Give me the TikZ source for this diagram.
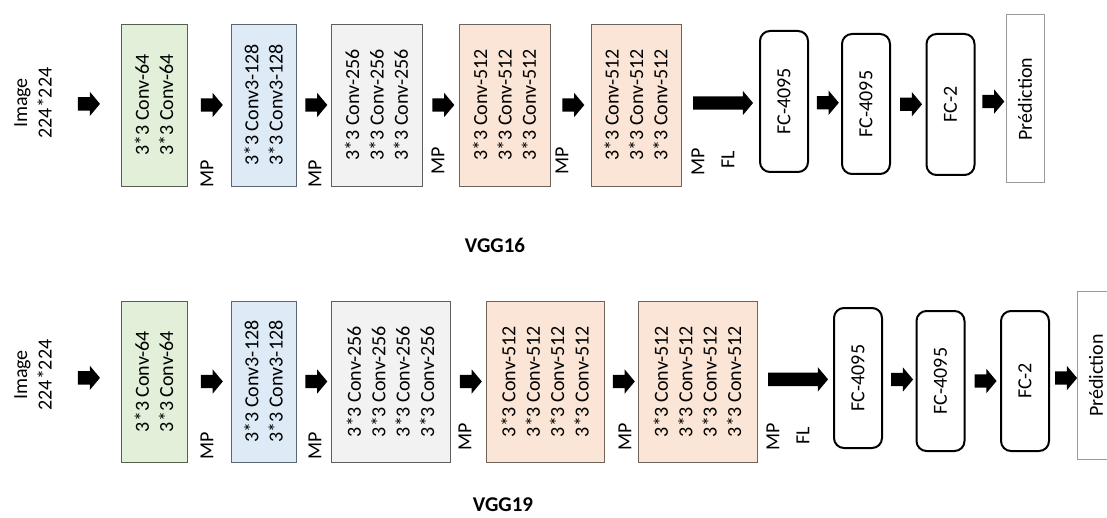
\documentclass[tikz,border=0pt]{standalone}
\usepackage{fontspec}
\setmainfont{Carlito}
\usetikzlibrary{shapes.arrows}

\definecolor{convgreen}{HTML}{E2F0D9}
\definecolor{convblue}{HTML}{DEEBF7}
\definecolor{convgray}{HTML}{F2F2F2}
\definecolor{convpeach}{HTML}{FBE5D6}
\definecolor{greenline}{HTML}{56604F}
\definecolor{blueline}{HTML}{5C6670}
\definecolor{grayline}{HTML}{5E5E5E}
\definecolor{peachline}{HTML}{6E625A}
\definecolor{predline}{HTML}{9A9A9A}

\tikzset{
  conv/.style={line width=0.9pt, rotate=90, align=center, inner sep=0pt},
  fc/.style={draw, line width=2pt, rounded corners=10pt, rotate=90, inner sep=0pt, minimum height=48pt},
  pred/.style={draw=predline, line width=1pt, rotate=90, inner sep=0pt, minimum height=38pt},
  fat/.style={single arrow, fill=black, inner xsep=0pt, inner ysep=6.5pt, minimum height=22pt,
    single arrow head extend=5.5pt, single arrow tip angle=100},
  lbl/.style={rotate=90, inner sep=0pt}
}

\begin{document}
\begin{tikzpicture}[x=1pt, y=-1pt, font=\fontsize{20}{24.4}\selectfont]
  \clip (0,0) rectangle (1107,518);
  \fill[white] (0,0) rectangle (1107,518);

  % VGG16
  \node[lbl, align=center] (Input 16) at (33,103) {Image\\224*224};
  \node[conv, draw=greenline, fill=convgreen, minimum width=162pt, minimum height=66pt] (Block1 16) at (154,105) {3*3 Conv-64\\3*3 Conv-64};
  \node[conv, draw=blueline, fill=convblue, minimum width=162pt, minimum height=65pt] (Block2 16) at (263.5,105) {3*3 Conv3-128\\3*3 Conv3-128};
  \node[conv, draw=grayline, fill=convgray, minimum width=162pt, minimum height=91pt] (Block3 16) at (376.5,105) {3*3 Conv-256\\3*3 Conv-256\\3*3 Conv-256};
  \node[conv, draw=peachline, fill=convpeach, minimum width=162pt, minimum height=91pt] (Block4 16) at (504.5,105) {3*3 Conv-512\\3*3 Conv-512\\3*3 Conv-512};
  \node[conv, draw=peachline, fill=convpeach, minimum width=162pt, minimum height=90pt] (Block5 16) at (636,105) {3*3 Conv-512\\3*3 Conv-512\\3*3 Conv-512};
  \node[fc, minimum width=141pt] (FC1 16) at (784,101.5) {FC-4095};
  \node[fc, minimum width=140pt] (FC2 16) at (866,104) {FC-4095};
  \node[fc, minimum width=141pt] (FC3 16) at (950.5,104.5) {FC-2};
  \node[pred, minimum width=168pt] (Prediction 16) at (1025,99) {Prédiction};

  \node[lbl] (MP1 16) at (207,173.5) {MP};
  \node[lbl] (MP2 16) at (315,173.5) {MP};
  \node[lbl] (MP3 16) at (438,160.5) {MP};
  \node[lbl] (MP4 16) at (562,160.5) {MP};
  \node[lbl] (MP5 16) at (698,161.5) {MP};
  \node[lbl] (FL 16) at (728,159.5) {FL};

  \path (Input 16) -- node[fat]{} (Block1 16);
  \path (Block1 16) -- node[fat]{} (Block2 16);
  \path (Block2 16) -- node[fat]{} (Block3 16);
  \path (Block3 16) -- node[fat]{} (Block4 16);
  \path (Block4 16) -- node[fat]{} (Block5 16);
  \path (Block5 16) -- node[fat, minimum height=60pt]{} (FC1 16);
  \path (FC1 16) -- node[fat]{} (FC2 16);
  \path (FC2 16) -- node[fat]{} (FC3 16);
  \path (FC3 16) -- node[fat]{} (Prediction 16);

  \node[font=\fontsize{21}{24}\selectfont\bfseries] (Title 16) at (495,245) {VGG16};

  % VGG19
  \node[lbl, align=center] (Input 19) at (33,375) {Image\\224*224};
  \node[conv, draw=greenline, fill=convgreen, minimum width=161pt, minimum height=66pt] (Block1 19) at (154,381.5) {3*3 Conv-64\\3*3 Conv-64};
  \node[conv, draw=blueline, fill=convblue, minimum width=161pt, minimum height=65pt] (Block2 19) at (263.5,381.5) {3*3 Conv3-128\\3*3 Conv3-128};
  \node[conv, draw=grayline, fill=convgray, minimum width=161pt, minimum height=119pt] (Block3 19) at (390.5,381.5) {3*3 Conv-256\\3*3 Conv-256\\3*3 Conv-256\\3*3 Conv-256};
  \node[conv, draw=peachline, fill=convpeach, minimum width=161pt, minimum height=118pt] (Block4 19) at (545,381.5) {3*3 Conv-512\\3*3 Conv-512\\3*3 Conv-512\\3*3 Conv-512};
  \node[conv, draw=peachline, fill=convpeach, minimum width=161pt, minimum height=119pt] (Block5 19) at (697.5,381.5) {3*3 Conv-512\\3*3 Conv-512\\3*3 Conv-512\\3*3 Conv-512};
  \node[fc, minimum width=140pt] (FC1 19) at (858,378) {FC-4095};
  \node[fc, minimum width=140pt] (FC2 19) at (940.5,381) {FC-4095};
  \node[fc, minimum width=140pt] (FC3 19) at (1025,381) {FC-2};
  \node[pred, minimum width=167pt] (Prediction 19) at (1096,375.5) {Prédiction};

  \node[lbl] (MP1 19) at (207,446) {MP};
  \node[lbl] (MP2 19) at (315,446) {MP};
  \node[lbl] (MP3 19) at (465,436.5) {MP};
  \node[lbl] (MP4 19) at (625,436.5) {MP};
  \node[lbl] (MP5 19) at (773,436.5) {MP};
  \node[lbl] (FL 19) at (803,435.5) {FL};

  \path (Input 19) -- node[fat]{} (Block1 19);
  \path (Block1 19) -- node[fat]{} (Block2 19);
  \path (Block2 19) -- node[fat]{} (Block3 19);
  \path (Block3 19) -- node[fat]{} (Block4 19);
  \path (Block4 19) -- node[fat]{} (Block5 19);
  \path (Block5 19) -- node[fat, minimum height=60pt]{} (FC1 19);
  \path (FC1 19) -- node[fat]{} (FC2 19);
  \path (FC2 19) -- node[fat]{} (FC3 19);
  \path (FC3 19) -- node[fat]{} (Prediction 19);

  \node[font=\fontsize{21}{24}\selectfont\bfseries] (Title 19) at (503,505) {VGG19};
\end{tikzpicture}
\end{document}
